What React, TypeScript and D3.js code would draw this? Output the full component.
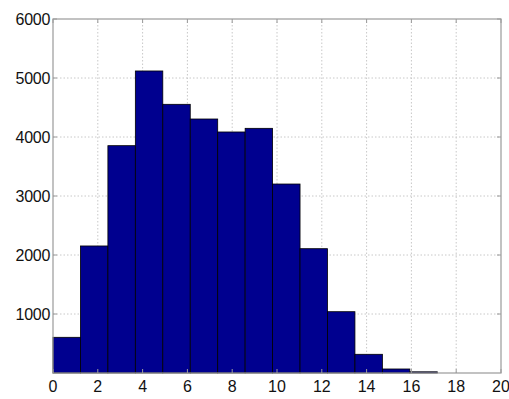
import React from "react";
import * as d3 from "d3";

const binStart = 0;
const binWidth = 1.2254;
const counts = [605, 2153, 3853, 5119, 4554, 4305, 4085, 4147, 3203, 2107, 1039, 317, 68, 20];
const xTicks = [0, 2, 4, 6, 8, 10, 12, 14, 16, 18, 20];
const yTicks = [1000, 2000, 3000, 4000, 5000, 6000];

const W = 509;
const H = 399;
const margin = { left: 53, top: 19, right: 8, bottom: 26 };

export default function App() {
  const x = d3.scaleLinear().domain([0, 20]).range([margin.left, W - margin.right]);
  const y = d3.scaleLinear().domain([0, 6000]).range([H - margin.bottom, margin.top]);
  const [x0, x1] = x.range();
  const [y0, y1] = y.range();
  const font = "'Liberation Sans', Arial, sans-serif";
  return (
    <svg width={W} height={H} style={{ position: "absolute", left: 0, top: 0, background: "#fff" }}>
      <rect x={x0} y={y1} width={x1 - x0} height={y0 - y1} fill="#fff" />
      <g stroke="#c8c8c8" strokeWidth={1} strokeDasharray="1.5,2">
        {xTicks.slice(1, -1).map((t) => (
          <line key={"gx" + t} x1={x(t)} x2={x(t)} y1={y0} y2={y1} />
        ))}
        {yTicks.slice(0, -1).map((t) => (
          <line key={"gy" + t} x1={x0} x2={x1} y1={y(t)} y2={y(t)} />
        ))}
      </g>
      <g>
        {counts.map((c, i) => {
          const a = binStart + i * binWidth;
          const b = a + binWidth;
          return (
            <rect
              key={i}
              x={x(a)}
              y={y(c)}
              width={x(b) - x(a)}
              height={y0 - y(c)}
              fill="#00008f"
              stroke="#000"
              strokeWidth={0.8}
            />
          );
        })}
      </g>
      <rect x={x0} y={y1} width={x1 - x0} height={y0 - y1} fill="none" stroke="#9a9a9a" strokeWidth={1.2} />
      <g stroke="#9a9a9a" strokeWidth={1}>
        {xTicks.map((t) => (
          <g key={"tx" + t}>
            <line x1={x(t)} x2={x(t)} y1={y0} y2={y0 - 4} />
            <line x1={x(t)} x2={x(t)} y1={y1} y2={y1 + 4} />
          </g>
        ))}
        {yTicks.map((t) => (
          <g key={"ty" + t}>
            <line x1={x0} x2={x0 + 4} y1={y(t)} y2={y(t)} />
            <line x1={x1} x2={x1 - 4} y1={y(t)} y2={y(t)} />
          </g>
        ))}
      </g>
      <g fontFamily={font} fontSize={16} fill="#111">
        {xTicks.map((t) => (
          <text key={"lx" + t} x={x(t)} y={y0 + 19} textAnchor="middle">
            {t}
          </text>
        ))}
        {yTicks.map((t) => (
          <text key={"ly" + t} x={x0 - 3} y={y(t) + 5.5} textAnchor="end" letterSpacing={-0.3}>
            {t}
          </text>
        ))}
      </g>
    </svg>
  );
}
